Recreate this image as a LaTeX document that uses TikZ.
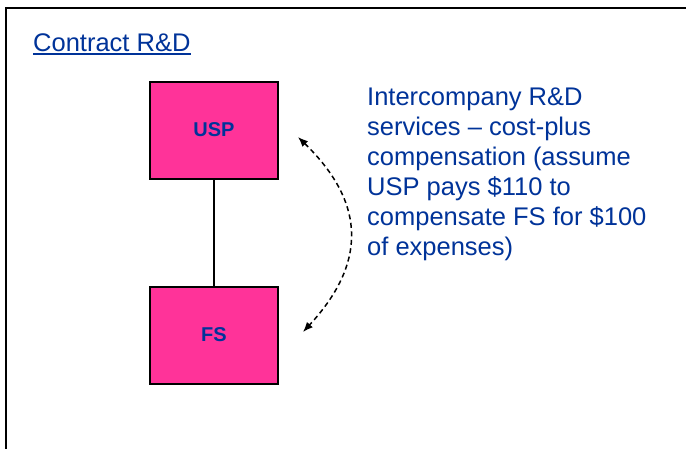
\documentclass[tikz,border=0pt]{standalone}
\usepackage{fontspec}
\setmainfont{Liberation Sans}
\usetikzlibrary{arrows.meta}
\definecolor{blueText}{RGB}{0,51,153}
\definecolor{pinkFill}{RGB}{255,51,153}
\tikzset{
  entity/.style={draw=black, line width=2pt, fill=pinkFill, minimum width=128pt, minimum height=97pt, inner sep=0pt, text=blueText, font=\fontsize{20}{24}\selectfont\bfseries},
  frame/.style={line width=2.5pt, draw=black},
  link/.style={line width=1.5pt, draw=black},
  flow/.style={line width=1.5pt, dash pattern=on 5pt off 3.5pt, {Latex[length=10pt,width=8pt]}-{Latex[length=10pt,width=8pt]}},
}
\begin{document}
\begin{tikzpicture}[x=1pt,y=-1pt]
\useasboundingbox (0,0) rectangle (686,448);
\fill[white] (0,0) rectangle (686,448);
\draw[frame] (6,452) -- (6,8) -- (690,8);
\node[anchor=base west, inner sep=0pt, text=blueText, font=\fontsize{25.5}{30}\selectfont] (title) at (33,51) {Contract R\&D};
\draw[blueText, line width=1.5pt] ([yshift=-2.5pt]title.south west) -- ([yshift=-2.5pt]title.south east);
\node[entity] (usp) at (214,130) {USP};
\node[entity] (fs) at (214,335) {FS};
\draw[link] (usp) -- (fs);
\node[anchor=north west, inner sep=0pt, text=blueText, align=left, font=\fontsize{25.5}{30}\selectfont] (desc) at (367,88) {Intercompany R\&D\\services -- cost-plus\\compensation (assume\\USP pays \$110 to\\compensate FS for \$100\\of expenses)};
\coordinate (a1) at (298,137);
\coordinate (a2) at (303,332);
\draw[flow] (a1) .. controls (368,205) and (365,265) .. (a2);
\end{tikzpicture}
\end{document}
